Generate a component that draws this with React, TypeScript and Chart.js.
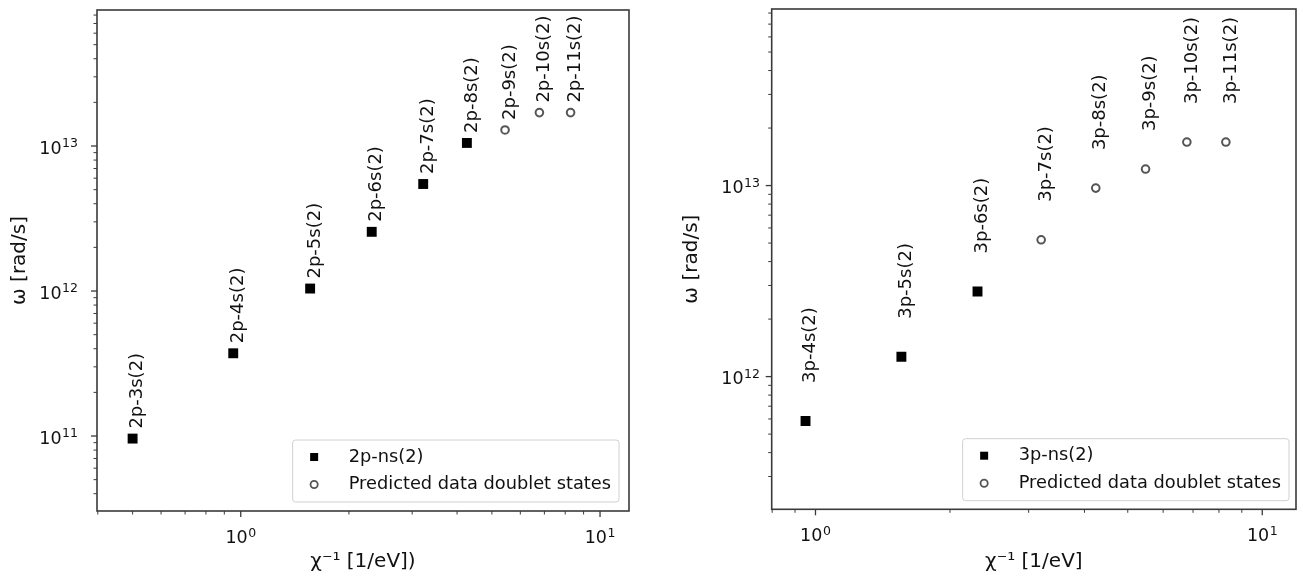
import React, { useEffect, useRef } from "react";
import { Chart, registerables } from "chart.js";

Chart.register(...registerables);

const FONT = "'DejaVu Sans', 'Liberation Sans', sans-serif";

// ---------- Left panel (2p-ns doublets) ----------
const leftMeasuredLabels = ["2p-3s(2)", "2p-4s(2)", "2p-5s(2)", "2p-6s(2)", "2p-7s(2)", "2p-8s(2)"];
const leftMeasuredX = [0.5, 0.953, 1.56, 2.315, 3.22, 4.26];
const leftMeasuredY = [9.6e10, 3.72e11, 1.04e12, 2.56e12, 5.47e12, 1.05e13];
const leftPredLabels = ["2p-9s(2)", "2p-10s(2)", "2p-11s(2)"];
const leftPredX = [5.44, 6.78, 8.28];
const leftPredY = [1.29e13, 1.7e13, 1.7e13];

// ---------- Right panel (3p-ns doublets) ----------
const rightMeasuredLabels = ["3p-4s(2)", "3p-5s(2)", "3p-6s(2)"];
const rightMeasuredX = [0.95, 1.557, 2.305];
const rightMeasuredY = [5.86e11, 1.27e12, 2.79e12];
const rightPredLabels = ["3p-7s(2)", "3p-8s(2)", "3p-9s(2)", "3p-10s(2)", "3p-11s(2)"];
const rightPredX = [3.2, 4.24, 5.48, 6.78, 8.29];
const rightPredY = [5.2e12, 9.7e12, 1.22e13, 1.69e13, 1.69e13];

// ---------- Ticks (labels written as base^exponent) ----------
const xMajorTicks = [1, 10];
const xMajorTickLabels = ["10^0", "10^1"];
const leftYMajorTicks = [1e11, 1e12, 1e13];
const leftYMajorTickLabels = ["10^11", "10^12", "10^13"];
const rightYMajorTicks = [1e12, 1e13];
const rightYMajorTickLabels = ["10^12", "10^13"];

const leftSeriesName = "2p-ns(2)";
const rightSeriesName = "3p-ns(2)";
const predictedName = "Predicted data doublet states";
const leftXTitle = "χ⁻¹ [1/eV])";
const rightXTitle = "χ⁻¹ [1/eV]";
const yTitle = "ω [rad/s]";

function isMajor(v: number, majors: number[]) {
  return majors.some((m) => Math.abs(v - m) / m < 1e-9);
}

function logTickValues(min: number, max: number): number[] {
  const out: number[] = [];
  const e0 = Math.floor(Math.log10(min));
  const e1 = Math.ceil(Math.log10(max));
  for (let e = e0; e <= e1; e++) {
    for (let m = 1; m <= 9; m++) {
      const v = m * Math.pow(10, e);
      if (v >= min * 0.999999 && v <= max * 1.000001) out.push(v);
    }
  }
  return out;
}

function labelFor(v: number, majors: number[], labels: string[]) {
  for (let i = 0; i < majors.length; i++) {
    if (Math.abs(v - majors[i]) / majors[i] < 1e-9) return labels[i];
  }
  return "";
}

type PanelSpec = {
  left: number;
  width: number;
  height: number;
  padTop: number;
  padRight: number;
  yAxisWidth: number;
  xAxisHeight: number;
  xMin: number;
  xMax: number;
  yMin: number;
  yMax: number;
  yMajor: number[];
  yMajorLabels: string[];
  xTitle: string;
  yTitlePad: number;
  yLabelGap: number;
  xTitlePad: number;
  mLabels: string[];
  mX: number[];
  mY: number[];
  pLabels: string[];
  pX: number[];
  pY: number[];
  seriesName: string;
  labelDx: number;
  labelDy: number;
  legendInsetX: number;
  legendInsetY: number;
};

function Panel({ spec }: { spec: PanelSpec }) {
  const ref = useRef<HTMLCanvasElement>(null);

  useEffect(() => {
    const canvas = ref.current!;
    const textColor = "#111";

    const drawPow = (ctx: any, label: string, x: number, y: number, align: "center" | "right") => {
      const [base, exp] = label.split("^");
      ctx.font = `17.5px ${FONT}`;
      const wb = ctx.measureText(base).width;
      ctx.font = `12.5px ${FONT}`;
      const we = ctx.measureText(exp).width;
      const total = wb + we + 0.5;
      const x0 = align === "center" ? x - total / 2 : x - total;
      ctx.textAlign = "left";
      ctx.textBaseline = "alphabetic";
      ctx.fillStyle = textColor;
      ctx.font = `17.5px ${FONT}`;
      ctx.fillText(base, x0, y);
      ctx.font = `12.5px ${FONT}`;
      ctx.fillText(exp, x0 + wb + 0.5, y - 6.5);
    };

    const framePlugin = {
      id: "frameTicks",
      afterDraw(chart: any) {
        const ctx = chart.ctx;
        const ca = chart.chartArea;
        ctx.save();
        ctx.strokeStyle = "#3a3a3a";
        const xs = chart.scales.x;
        xs.ticks.forEach((t: any) => {
          const px = xs.getPixelForValue(t.value);
          const major = isMajor(t.value, xMajorTicks);
          ctx.lineWidth = major ? 1.3 : 1;
          ctx.beginPath();
          ctx.moveTo(px, ca.bottom);
          ctx.lineTo(px, ca.bottom + (major ? 6 : 3.5));
          ctx.stroke();
          const lab = labelFor(t.value, xMajorTicks, xMajorTickLabels);
          if (lab) drawPow(ctx, lab, px, ca.bottom + 32, "center");
        });
        const ys = chart.scales.y;
        ys.ticks.forEach((t: any) => {
          const py = ys.getPixelForValue(t.value);
          const major = isMajor(t.value, spec.yMajor);
          ctx.lineWidth = major ? 1.3 : 1;
          ctx.beginPath();
          ctx.moveTo(ca.left, py);
          ctx.lineTo(ca.left - (major ? 6 : 3.5), py);
          ctx.stroke();
          const lab = labelFor(t.value, spec.yMajor, spec.yMajorLabels);
          if (lab) drawPow(ctx, lab, ca.left - spec.yLabelGap, py + 7.5, "right");
        });
        ctx.lineWidth = 1.6;
        ctx.strokeStyle = "#3a3a3a";
        ctx.strokeRect(ca.left, ca.top, ca.right - ca.left, ca.bottom - ca.top);
        ctx.restore();
      },
    };

    const pointLabelPlugin = {
      id: "pointLabels",
      afterDatasetsDraw(chart: any) {
        const ctx = chart.ctx;
        ctx.save();
        ctx.font = `18px ${FONT}`;
        ctx.fillStyle = textColor;
        ctx.textAlign = "left";
        ctx.textBaseline = "middle";
        chart.data.datasets.forEach((ds: any, di: number) => {
          const meta = chart.getDatasetMeta(di);
          meta.data.forEach((el: any, i: number) => {
            const txt = ds.pointLabels[i];
            ctx.save();
            ctx.translate(el.x + spec.labelDx, el.y - spec.labelDy);
            ctx.rotate(-Math.PI / 2);
            ctx.fillText(txt, 0, 0);
            ctx.restore();
          });
        });
        ctx.restore();
      },
    };

    const legendPlugin = {
      id: "innerLegend",
      afterDraw(chart: any) {
        const ctx = chart.ctx;
        const ca = chart.chartArea;
        const names = chart.data.datasets.map((d: any) => d.label);
        ctx.save();
        ctx.font = `17.8px ${FONT}`;
        const tw = Math.max(...names.map((n: string) => ctx.measureText(n).width));
        const boxW = 56 + tw + 8;
        const boxH = 62;
        const bx = ca.right - spec.legendInsetX - boxW;
        const by = ca.bottom - spec.legendInsetY - boxH;
        const r = 3;
        ctx.beginPath();
        ctx.moveTo(bx + r, by);
        ctx.lineTo(bx + boxW - r, by);
        ctx.quadraticCurveTo(bx + boxW, by, bx + boxW, by + r);
        ctx.lineTo(bx + boxW, by + boxH - r);
        ctx.quadraticCurveTo(bx + boxW, by + boxH, bx + boxW - r, by + boxH);
        ctx.lineTo(bx + r, by + boxH);
        ctx.quadraticCurveTo(bx, by + boxH, bx, by + boxH - r);
        ctx.lineTo(bx, by + r);
        ctx.quadraticCurveTo(bx, by, bx + r, by);
        ctx.closePath();
        ctx.fillStyle = "rgba(255,255,255,0.85)";
        ctx.fill();
        ctx.strokeStyle = "#d0d0d0";
        ctx.lineWidth = 1;
        ctx.stroke();

        const rows = [by + 17, by + 44.5];
        const mx = bx + 21.5;
        ctx.fillStyle = "#000";
        ctx.fillRect(mx - 4, rows[0] - 4, 8, 8);
        ctx.beginPath();
        ctx.arc(mx, rows[1], 3.6, 0, Math.PI * 2);
        ctx.strokeStyle = "#555";
        ctx.lineWidth = 1.8;
        ctx.stroke();

        ctx.fillStyle = textColor;
        ctx.textAlign = "left";
        ctx.textBaseline = "middle";
        names.forEach((n: string, i: number) => ctx.fillText(n, bx + 56, rows[i]));
        ctx.restore();
      },
    };

    const chart = new Chart(canvas, {
      type: "scatter",
      data: {
        datasets: [
          {
            label: spec.seriesName,
            data: spec.mX.map((x, i) => ({ x, y: spec.mY[i] })),
            pointStyle: "rect",
            pointRadius: 7,
            backgroundColor: "#000",
            borderColor: "#000",
            borderWidth: 0,
            pointLabels: spec.mLabels,
          } as any,
          {
            label: predictedName,
            data: spec.pX.map((x, i) => ({ x, y: spec.pY[i] })),
            pointStyle: "circle",
            pointRadius: 3.8,
            backgroundColor: "rgba(0,0,0,0)",
            borderColor: "#555",
            borderWidth: 2,
            pointLabels: spec.pLabels,
          } as any,
        ],
      },
      options: {
        responsive: false,
        animation: false,
        events: [],
        layout: { padding: { top: spec.padTop, right: spec.padRight, bottom: 0, left: 0 } },
        plugins: { legend: { display: false }, tooltip: { enabled: false } },
        scales: {
          x: {
            type: "logarithmic",
            position: "bottom",
            min: spec.xMin,
            max: spec.xMax,
            afterBuildTicks: (s: any) => {
              s.ticks = logTickValues(spec.xMin, spec.xMax).map((v) => ({ value: v }));
            },
            afterFit: (s: any) => {
              s.height = spec.xAxisHeight;
              s.paddingLeft = 0;
              s.paddingRight = 0;
            },
            ticks: { display: false, autoSkip: false },
            grid: { display: false },
            border: { display: false },
            title: {
              display: true,
              text: spec.xTitle,
              color: textColor,
              font: { family: FONT, size: 20 },
              padding: { top: 0, bottom: spec.xTitlePad },
            },
          } as any,
          y: {
            type: "logarithmic",
            position: "left",
            min: spec.yMin,
            max: spec.yMax,
            afterBuildTicks: (s: any) => {
              s.ticks = logTickValues(spec.yMin, spec.yMax).map((v) => ({ value: v }));
            },
            afterFit: (s: any) => {
              s.width = spec.yAxisWidth;
              s.paddingTop = 0;
              s.paddingBottom = 0;
            },
            ticks: { display: false, autoSkip: false },
            grid: { display: false },
            border: { display: false },
            title: {
              display: true,
              text: yTitle,
              color: textColor,
              font: { family: FONT, size: 20 },
              padding: { top: spec.yTitlePad, bottom: 0 },
            },
          } as any,
        },
      },
      plugins: [framePlugin, pointLabelPlugin, legendPlugin],
    } as any);

    return () => chart.destroy();
  }, []);

  return (
    <div style={{ position: "absolute", left: spec.left, top: 0, width: spec.width, height: spec.height }}>
      <canvas ref={ref} width={spec.width} height={spec.height} style={{ width: spec.width, height: spec.height, display: "block" }} />
    </div>
  );
}

const leftSpec: PanelSpec = {
  left: 0,
  width: 650,
  height: 584,
  padTop: 10,
  padRight: 21,
  yAxisWidth: 97,
  xAxisHeight: 73,
  xMin: 0.398,
  xMax: 12.04,
  yMin: 3.04e10,
  yMax: 8.67e13,
  yMajor: leftYMajorTicks,
  yMajorLabels: leftYMajorTickLabels,
  xTitle: leftXTitle,
  yTitlePad: 8,
  yLabelGap: 19,
  xTitlePad: 10,
  mLabels: leftMeasuredLabels,
  mX: leftMeasuredX,
  mY: leftMeasuredY,
  pLabels: leftPredLabels,
  pX: leftPredX,
  pY: leftPredY,
  seriesName: leftSeriesName,
  labelDx: 5,
  labelDy: 10,
  legendInsetX: 10,
  legendInsetY: 9,
};

const rightSpec: PanelSpec = {
  left: 650,
  width: 653,
  height: 584,
  padTop: 9,
  padRight: 3,
  yAxisWidth: 121.7,
  xAxisHeight: 74.7,
  xMin: 0.798,
  xMax: 11.9,
  yMin: 2.02e11,
  yMax: 8.4e13,
  yMajor: rightYMajorTicks,
  yMajorLabels: rightYMajorTickLabels,
  xTitle: rightXTitle,
  yTitlePad: 30,
  yLabelGap: 11.7,
  xTitlePad: 10,
  mLabels: rightMeasuredLabels,
  mX: rightMeasuredX,
  mY: rightMeasuredY,
  pLabels: rightPredLabels,
  pX: rightPredX,
  pY: rightPredY,
  seriesName: rightSeriesName,
  labelDx: 5,
  labelDy: 38,
  legendInsetX: 7,
  legendInsetY: 8.6,
};

export default function App() {
  return (
    <div style={{ position: "fixed", left: 0, top: 0, width: 1303, height: 584, background: "#fff", overflow: "hidden" }}>
      <Panel spec={leftSpec} />
      <Panel spec={rightSpec} />
    </div>
  );
}
